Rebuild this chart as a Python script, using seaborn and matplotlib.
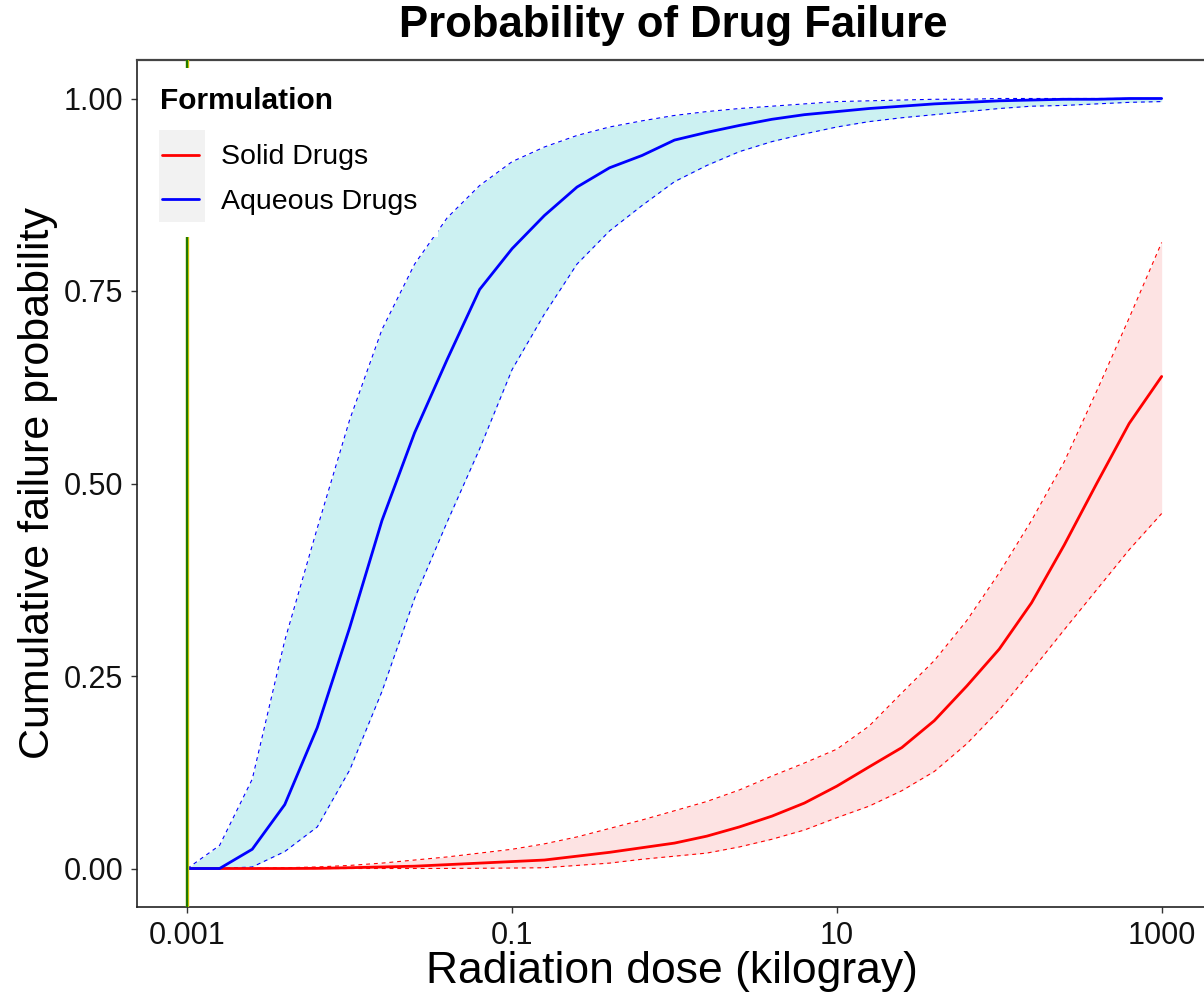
import matplotlib
matplotlib.use("Agg")
import matplotlib.pyplot as plt
from matplotlib.lines import Line2D
from matplotlib.patches import Rectangle
import seaborn as sns
import pandas as pd

# ---- data ----
dose = [0.001, 0.00158, 0.00251, 0.00398, 0.00631, 0.01, 0.0158, 0.0251, 0.0398, 0.0631,
        0.1, 0.158, 0.251, 0.398, 0.631, 1, 1.58, 2.51, 3.98, 6.31,
        10, 15.8, 25.1, 39.8, 63.1, 100, 158, 251, 398, 631, 1000]

aq_med = [0, 0.0, 0.025, 0.083, 0.183, 0.313, 0.452, 0.566, 0.661, 0.752,
          0.805, 0.848, 0.885, 0.910, 0.926, 0.946, 0.956, 0.965, 0.973, 0.979,
          0.983, 0.987, 0.990, 0.993, 0.995, 0.997, 0.998, 0.999, 0.999, 1.0, 1.0]
aq_up = [0, 0.03, 0.116, 0.296, 0.442, 0.583, 0.70, 0.785, 0.845, 0.887,
         0.918, 0.937, 0.952, 0.963, 0.971, 0.978, 0.983, 0.987, 0.990, 0.993,
         0.996, 0.997, 0.998, 0.999, 0.999, 1.0, 1.0, 1.0, 1.0, 1.0, 1.0]
aq_lo = [0, 0, 0.002, 0.022, 0.054, 0.128, 0.23, 0.351, 0.45, 0.545,
         0.648, 0.72, 0.785, 0.828, 0.861, 0.892, 0.913, 0.931, 0.944, 0.954,
         0.963, 0.970, 0.975, 0.979, 0.983, 0.987, 0.990, 0.991, 0.993, 0.995, 0.996]

so_med = [0, 0, 0, 0, 0.0002, 0.001, 0.002, 0.003, 0.005, 0.007,
          0.009, 0.011, 0.016, 0.021, 0.027, 0.033, 0.042, 0.054, 0.068, 0.085,
          0.107, 0.132, 0.157, 0.192, 0.237, 0.285, 0.345, 0.42, 0.50, 0.578, 0.639]
so_up = [0, 0, 0.0003, 0.001, 0.002, 0.004, 0.007, 0.011, 0.015, 0.020,
         0.025, 0.032, 0.041, 0.052, 0.063, 0.075, 0.087, 0.102, 0.120, 0.137,
         0.155, 0.185, 0.228, 0.270, 0.322, 0.384, 0.452, 0.528, 0.62, 0.715, 0.813]
so_lo = [0, 0, 0, 0, 0, 0, 0, 0, 0.0001, 0.0003,
         0.0006, 0.001, 0.004, 0.007, 0.012, 0.016, 0.020, 0.028, 0.038, 0.050,
         0.066, 0.081, 0.101, 0.126, 0.162, 0.206, 0.257, 0.31, 0.362, 0.414, 0.461]

formulations = ["Solid Drugs", "Aqueous Drugs"]
line_colors = {"Solid Drugs": "#FF0000", "Aqueous Drugs": "#0000FF"}
fill_colors = {"Solid Drugs": "#FDE3E3", "Aqueous Drugs": "#CCF1F2"}
x_ticks = [0.001, 0.1, 10, 1000]
x_ticklabels = ["0.001", "0.1", "10", "1000"]
y_ticks = [0.0, 0.25, 0.5, 0.75, 1.0]
y_ticklabels = ["0.00", "0.25", "0.50", "0.75", "1.00"]

rows = []
for f, med, lo, up in [("Solid Drugs", so_med, so_lo, so_up),
                       ("Aqueous Drugs", aq_med, aq_lo, aq_up)]:
    for d, m, l, u in zip(dose, med, lo, up):
        rows.append({"dose": d, "median": m, "lower": l, "upper": u, "Formulation": f})
df = pd.DataFrame(rows)

# ---- plot ----
sns.set_theme(style="white")
plt.rcParams["font.family"] = ["Liberation Sans", "DejaVu Sans"]
plt.rcParams["text.color"] = "black"

W, H = 1204, 1002
fig = plt.figure(figsize=(W / 100, H / 100), dpi=100)
left, right, top, bottom = 137, 1212, 60, 907
ax = fig.add_axes([left / W, 1 - bottom / H, (right - left) / W, (bottom - top) / H])

for f in formulations:
    sub = df[df["Formulation"] == f]
    ax.fill_between(sub["dose"], sub["lower"], sub["upper"], color=fill_colors[f],
                    linewidth=0, zorder=1)

for col in ["upper", "lower"]:
    sns.lineplot(data=df, x="dose", y=col, hue="Formulation", palette=line_colors,
                 estimator=None, sort=False, legend=False, ax=ax, linewidth=0.8,
                 linestyle=(0, (3.5, 3.5)), zorder=2)
sns.lineplot(data=df, x="dose", y="median", hue="Formulation", palette=line_colors,
             estimator=None, sort=False, legend=False, ax=ax, linewidth=2.0, zorder=3)

ax.axvline(0.001, color="#D8C800", linewidth=2.4, zorder=4)
ax.axvline(0.001, color="#1F7A00", linewidth=1.6, zorder=5)

ax.set_xscale("log")
ax.set_xlim(10 ** -3.31, 10 ** 3.31)
ax.set_ylim(-0.05, 1.05)
ax.set_xticks(x_ticks)
ax.set_xticklabels(x_ticklabels)
ax.xaxis.set_minor_locator(matplotlib.ticker.NullLocator())
ax.set_yticks(y_ticks)
ax.set_yticklabels(y_ticklabels)
ax.set_xlabel("")
ax.set_ylabel("")
ax.tick_params(axis="both", which="major", labelsize=22, length=4, width=1,
               color="#333333", labelcolor="#111111", direction="out")
ax.tick_params(axis="x", pad=6, bottom=True)
ax.tick_params(axis="y", pad=6, left=True)

for s in ["left", "bottom"]:
    ax.spines[s].set_color("#222222")
    ax.spines[s].set_linewidth(1.2)
ax.spines["top"].set_color("#444444")
ax.spines["top"].set_linewidth(1.6)
ax.spines["right"].set_visible(False)

# legend box (white background hiding the reference line) and grey key area
ax.add_patch(Rectangle((148 / W, 1 - 237 / H), 290 / W, 169 / H,
                       transform=fig.transFigure, facecolor="white",
                       edgecolor="none", zorder=5.5))
ax.add_patch(Rectangle((159 / W, 1 - 222 / H), 46 / W, 92 / H,
                       transform=fig.transFigure, facecolor="#F2F2F2",
                       edgecolor="none", zorder=6))
handles = [Line2D([0], [0], color=line_colors[f], linewidth=2.0) for f in formulations]
leg = ax.legend(handles, formulations, loc="upper left",
                bbox_to_anchor=(162 / W, 1 - 144.5 / H), bbox_transform=fig.transFigure,
                frameon=False, fontsize=20.5, labelcolor="black",
                handlelength=1.3, handletextpad=0.78, labelspacing=0.66,
                borderpad=0, borderaxespad=0)
leg.set_zorder(7)
fig.text(160 / W, 1 - 101 / H, "Formulation", ha="left", va="center",
         fontsize=21.5, fontweight="bold", color="black")

fig.text(673 / W, 1 - 26 / H, "Probability of Drug Failure", ha="center", va="center",
         fontsize=31.5, fontweight="bold", color="black")
fig.text(672 / W, 1 - 972 / H, "Radiation dose (kilogray)", ha="center", va="center",
         fontsize=32, color="black")
fig.text(38 / W, 1 - 483 / H, "Cumulative failure probability", ha="center", va="center",
         rotation=90, fontsize=31, color="black")

fig.savefig("out.png", dpi=100)
